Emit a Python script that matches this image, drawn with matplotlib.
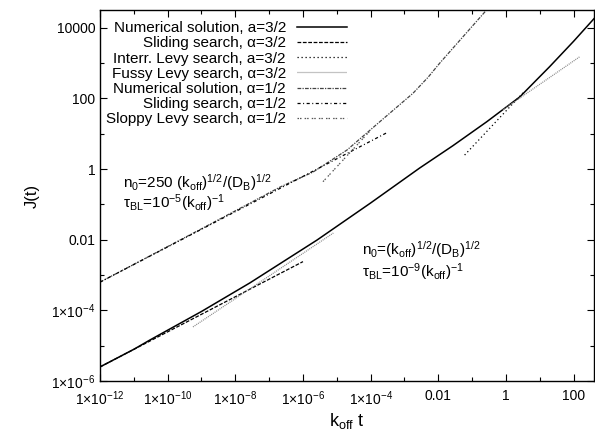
import numpy as np
import matplotlib
matplotlib.use("Agg")
from matplotlib import pyplot as plt
from matplotlib.ticker import FixedLocator, FuncFormatter, NullFormatter

plt.rcParams["font.family"] = ["Liberation Sans", "DejaVu Sans"]
plt.rcParams["mathtext.fontset"] = "custom"
plt.rcParams["mathtext.rm"] = "Liberation Sans"
plt.rcParams["mathtext.it"] = "Liberation Sans:italic"
plt.rcParams["mathtext.bf"] = "Liberation Sans:bold"

# alpha = 3/2
t_num32 = [1e-12, 1e-11, 3e-11, 1e-9, 2.7e-8, 2.6e-6, 1e-4, 2.8e-3, 2.7e-2, 0.27, 2.6, 8.1, 19.5, 100, 400]
J_num32 = [2.5e-6, 7.9e-6, 1.45e-5, 9.3e-5, 6.0e-4, 9.8e-3, 0.11, 1.07, 4.6, 21.9, 112, 339, 794, 4170, 18200]
t_slide32 = [1e-12, 1e-6]
J_slide32 = [2.5e-6, 2.4e-3]
t_interr32 = [0.06, 3.2]
J_interr32 = [2.5, 145]
t_fussy32_a = [5.6e-10, 7.9e-6]
J_fussy32_a = [3.4e-5, 1.55e-2]
t_fussy32_b = [0.81, 150]
J_fussy32_b = [48, 1510]

# alpha = 1/2
t_num12 = [1e-12, 1e-9, 2.1e-7, 2.0e-6, 2.0e-5, 1.86e-4, 1.78e-3, 5e-3, 1.1e-2, 0.27, 0.5]
J_num12 = [6.3e-4, 2.04e-2, 0.31, 0.83, 3.47, 21.9, 140, 400, 1000, 32400, 60000]
t_slide12 = [1e-12, 3e-4]
J_slide12 = [6.3e-4, 10.7]
t_sloppy12 = [3.9e-6, 1e-4]
J_sloppy12 = [0.44, 12.6]

xdec_major = [-12, -10, -8, -6, -4, -2, 0, 2]
ydec_major = [-6, -4, -2, 0, 2, 4]

fig = plt.figure(figsize=(5.95, 4.30), dpi=100)
ax = fig.add_axes([100 / 595, 49 / 430, 494 / 595, 371 / 430])

lw = 0.9
ax.plot(t_num32, J_num32, color="black", lw=1.1, label="Numerical solution, a=3/2")
ax.plot(t_slide32, J_slide32, color="black", lw=lw, ls=(0, (3, 1.3)), label="Sliding search, α=3/2")
ax.plot(t_interr32, J_interr32, color="black", lw=lw, ls=(0, (1, 2.2)), label="Interr. Levy search, a=3/2")
ax.plot(t_fussy32_a, J_fussy32_a, color="#888888", lw=lw, ls=(0, (0.8, 0.8)), label="Fussy Levy search, α=3/2")
ax.plot(t_fussy32_b, J_fussy32_b, color="#888888", lw=lw, ls=(0, (0.8, 0.8)))
ax.plot(t_num12, J_num12, color="#444444", lw=lw, ls=(0, (3, 1, 1, 1)), label="Numerical solution, α=1/2")
ax.plot(t_slide12, J_slide12, color="black", lw=lw, ls=(0, (2.5, 2, 0.8, 2)), label="Sliding search, α=1/2")
ax.plot(t_sloppy12, J_sloppy12, color="#555555", lw=lw, ls=(0, (1.2, 0.8, 1.2, 2.5)), label="Sloppy Levy search, α=1/2")

ax.set_xscale("log")
ax.set_yscale("log")
ax.set_xlim(1e-12, 400)
ax.set_ylim(1e-6, 3.2e4)


def fmt(v, pos):
    e = int(round(np.log10(v)))
    if e >= -2:
        return "%g" % v
    return "1×10$^{%d}$" % e


ax.xaxis.set_major_locator(FixedLocator([10.0 ** d for d in xdec_major]))
ax.xaxis.set_minor_locator(FixedLocator([10.0 ** (d + 1) for d in xdec_major]))
ax.yaxis.set_major_locator(FixedLocator([10.0 ** d for d in ydec_major]))
ax.yaxis.set_minor_locator(FixedLocator([10.0 ** (d + 1) for d in ydec_major]))
ax.xaxis.set_major_formatter(FuncFormatter(fmt))
ax.yaxis.set_major_formatter(FuncFormatter(fmt))
ax.xaxis.set_minor_formatter(NullFormatter())
ax.yaxis.set_minor_formatter(NullFormatter())
ax.tick_params(which="both", direction="in", top=True, right=True, labelsize=10)
ax.tick_params(which="major", length=5, width=0.8)
ax.tick_params(which="minor", length=3, width=0.8)
ax.tick_params(axis="x", pad=6)
for s in ax.spines.values():
    s.set_linewidth(1.0)

ax.set_ylabel("J(t)", fontsize=12, labelpad=8)
ax.set_xlabel("k$_{\\mathrm{off}}$ t", fontsize=13, labelpad=2)

ax.text(0.047, 0.536, "n$_0$=250 (k$_{\\mathrm{off}}$)$^{1/2}$/(D$_\\mathrm{B}$)$^{1/2}$",
        transform=ax.transAxes, fontsize=11, va="center")
ax.text(0.047, 0.48, "τ$_{\\mathrm{BL}}$=10$^{-5}$(k$_{\\mathrm{off}}$)$^{-1}$",
        transform=ax.transAxes, fontsize=11, va="center")
ax.text(0.53, 0.353, "n$_0$=(k$_{\\mathrm{off}}$)$^{1/2}$/(D$_\\mathrm{B}$)$^{1/2}$",
        transform=ax.transAxes, fontsize=11, va="center")
ax.text(0.53, 0.294, "τ$_{\\mathrm{BL}}$=10$^{-9}$(k$_{\\mathrm{off}}$)$^{-1}$",
        transform=ax.transAxes, fontsize=11, va="center")

ax.legend(loc="upper right", bbox_to_anchor=(0.5, 0.97), frameon=False,
          markerfirst=False, fontsize=11, handlelength=3.3, handletextpad=0.7,
          labelspacing=0.08, borderpad=0, borderaxespad=0)

fig.savefig("out.png", dpi=100)
